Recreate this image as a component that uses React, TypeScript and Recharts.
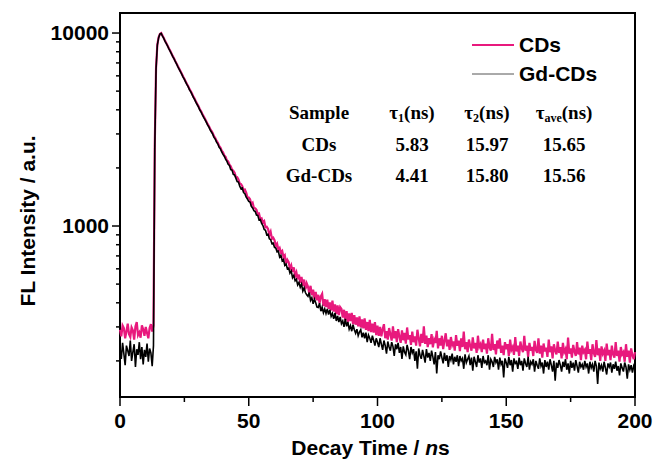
import React from 'react';
import { LineChart, Line, XAxis, YAxis, ReferenceArea, Legend } from 'recharts';

// decay time (ns), one channel every 0.5 ns, 10 channels per row
const times = [
  0, 0.5, 1, 1.5, 2, 2.5, 3, 3.5, 4, 4.5, 5, 5.5, 6, 6.5, 7, 7.5, 8, 8.5, 9, 9.5,
  10, 10.5, 11, 11.5, 12, 12.5, 13, 13.5, 14, 14.5, 15, 15.5, 16, 16.5, 17, 17.5, 18, 18.5, 19, 19.5,
  20, 20.5, 21, 21.5, 22, 22.5, 23, 23.5, 24, 24.5, 25, 25.5, 26, 26.5, 27, 27.5, 28, 28.5, 29, 29.5,
  30, 30.5, 31, 31.5, 32, 32.5, 33, 33.5, 34, 34.5, 35, 35.5, 36, 36.5, 37, 37.5, 38, 38.5, 39, 39.5,
  40, 40.5, 41, 41.5, 42, 42.5, 43, 43.5, 44, 44.5, 45, 45.5, 46, 46.5, 47, 47.5, 48, 48.5, 49, 49.5,
  50, 50.5, 51, 51.5, 52, 52.5, 53, 53.5, 54, 54.5, 55, 55.5, 56, 56.5, 57, 57.5, 58, 58.5, 59, 59.5,
  60, 60.5, 61, 61.5, 62, 62.5, 63, 63.5, 64, 64.5, 65, 65.5, 66, 66.5, 67, 67.5, 68, 68.5, 69, 69.5,
  70, 70.5, 71, 71.5, 72, 72.5, 73, 73.5, 74, 74.5, 75, 75.5, 76, 76.5, 77, 77.5, 78, 78.5, 79, 79.5,
  80, 80.5, 81, 81.5, 82, 82.5, 83, 83.5, 84, 84.5, 85, 85.5, 86, 86.5, 87, 87.5, 88, 88.5, 89, 89.5,
  90, 90.5, 91, 91.5, 92, 92.5, 93, 93.5, 94, 94.5, 95, 95.5, 96, 96.5, 97, 97.5, 98, 98.5, 99, 99.5,
  100, 100.5, 101, 101.5, 102, 102.5, 103, 103.5, 104, 104.5, 105, 105.5, 106, 106.5, 107, 107.5, 108, 108.5, 109, 109.5,
  110, 110.5, 111, 111.5, 112, 112.5, 113, 113.5, 114, 114.5, 115, 115.5, 116, 116.5, 117, 117.5, 118, 118.5, 119, 119.5,
  120, 120.5, 121, 121.5, 122, 122.5, 123, 123.5, 124, 124.5, 125, 125.5, 126, 126.5, 127, 127.5, 128, 128.5, 129, 129.5,
  130, 130.5, 131, 131.5, 132, 132.5, 133, 133.5, 134, 134.5, 135, 135.5, 136, 136.5, 137, 137.5, 138, 138.5, 139, 139.5,
  140, 140.5, 141, 141.5, 142, 142.5, 143, 143.5, 144, 144.5, 145, 145.5, 146, 146.5, 147, 147.5, 148, 148.5, 149, 149.5,
  150, 150.5, 151, 151.5, 152, 152.5, 153, 153.5, 154, 154.5, 155, 155.5, 156, 156.5, 157, 157.5, 158, 158.5, 159, 159.5,
  160, 160.5, 161, 161.5, 162, 162.5, 163, 163.5, 164, 164.5, 165, 165.5, 166, 166.5, 167, 167.5, 168, 168.5, 169, 169.5,
  170, 170.5, 171, 171.5, 172, 172.5, 173, 173.5, 174, 174.5, 175, 175.5, 176, 176.5, 177, 177.5, 178, 178.5, 179, 179.5,
  180, 180.5, 181, 181.5, 182, 182.5, 183, 183.5, 184, 184.5, 185, 185.5, 186, 186.5, 187, 187.5, 188, 188.5, 189, 189.5,
  190, 190.5, 191, 191.5, 192, 192.5, 193, 193.5, 194, 194.5, 195, 195.5, 196, 196.5, 197, 197.5, 198, 198.5, 199, 199.5,
  200,
];

const cdsCounts = [
  290, 268, 305, 296, 262, 284, 312, 275, 266, 298,
  288, 258, 302, 318, 272, 281, 264, 306, 292, 270,
  300, 279, 262, 296, 310, 284, 305, 2600, 6600, 8700,
  9500, 9900, 10000, 9700, 9420, 9110, 8850, 8600, 8310, 8090,
  7840, 7590, 7380, 7140, 6940, 6720, 6520, 6340, 6150, 5950,
  5790, 5610, 5440, 5300, 5120, 4990, 4840, 4680, 4560, 4410,
  4290, 4170, 4030, 3930, 3810, 3700, 3600, 3490, 3380, 3300,
  3190, 3110, 3030, 2920, 2860, 2760, 2700, 2600, 2550, 2460,
  2410, 2320, 2280, 2190, 2160, 2080, 2040, 1960, 1935, 1890,
  1800, 1790, 1745, 1660, 1650, 1610, 1530, 1545, 1490, 1410,
  1405, 1375, 1300, 1320, 1240, 1235, 1215, 1150, 1160, 1085,
  1095, 1040, 1060, 985, 990, 965, 900, 935, 860, 870,
  845, 790, 810, 755, 770, 728, 742, 690, 705, 640,
  668, 650, 600, 625, 580, 610, 552, 575, 530, 560,
  508, 545, 490, 528, 470, 505, 485, 448, 490, 438,
  468, 420, 455, 412, 440, 398, 432, 445, 385, 418,
  380, 415, 372, 402, 365, 410, 360, 392, 350, 388,
  345, 380, 372, 335, 368, 325, 362, 318, 352, 322,
  355, 310, 345, 308, 336, 302, 340, 298, 328, 295,
  332, 290, 318, 285, 326, 282, 312, 280, 318, 272,
  305, 270, 300, 268, 292, 310, 262, 285, 258, 296,
  275, 255, 302, 262, 285, 250, 292, 268, 248, 288,
  256, 279, 246, 298, 258, 272, 242, 284, 250, 268,
  240, 290, 262, 238, 276, 248, 302, 245, 270, 236,
  262, 244, 275, 235, 258, 248, 286, 232, 262, 240,
  270, 230, 255, 278, 238, 258, 228, 266, 242, 252,
  226, 272, 240, 255, 225, 262, 236, 284, 230, 250,
  222, 258, 240, 226, 265, 232, 248, 220, 270, 236,
  244, 222, 258, 230, 246, 218, 262, 234, 226, 276,
  228, 244, 216, 255, 232, 262, 220, 240, 214, 250,
  230, 244, 212, 258, 228, 236, 215, 266, 224, 240,
  212, 252, 232, 222, 270, 226, 240, 210, 248, 226,
  236, 212, 254, 228, 220, 262, 218, 240, 208, 246,
  224, 234, 210, 258, 222, 238, 206, 244, 226, 216,
  252, 220, 236, 206, 248, 222, 230, 204, 264, 218,
  232, 208, 242, 224, 212, 250, 216, 234, 202, 240,
  222, 228, 204, 252, 218, 230, 202, 244, 220, 210,
  256, 214, 232, 200, 238, 218, 226, 200, 246, 214,
  228, 202, 240, 216, 208, 250, 212, 226, 198, 236,
  216, 222, 198, 244, 210, 226, 196, 232, 214, 204,
  222,
];

const gdCdsCounts = [
  232, 205, 248, 218, 190, 240, 226, 212, 255, 200,
  222, 244, 186, 230, 215, 250, 204, 236, 192, 228,
  210, 246, 198, 232, 220, 188, 240, 2500, 6500, 8650,
  9460, 9870, 9960, 9650, 9380, 9060, 8810, 8550, 8270, 8040,
  7800, 7550, 7340, 7100, 6900, 6680, 6480, 6300, 6110, 5910,
  5750, 5570, 5400, 5260, 5080, 4950, 4800, 4640, 4520, 4370,
  4250, 4130, 3990, 3890, 3770, 3660, 3560, 3450, 3340, 3260,
  3150, 3070, 2990, 2880, 2820, 2720, 2660, 2560, 2510, 2420,
  2350, 2300, 2220, 2170, 2090, 2060, 1960, 1950, 1850, 1840,
  1770, 1700, 1690, 1610, 1560, 1575, 1490, 1470, 1410, 1380,
  1340, 1330, 1265, 1240, 1200, 1190, 1140, 1135, 1075, 1080,
  1030, 1005, 960, 950, 900, 905, 860, 850, 810, 815,
  775, 770, 735, 740, 690, 705, 660, 670, 625, 635,
  600, 605, 570, 585, 540, 555, 520, 530, 495, 510,
  482, 500, 460, 478, 452, 440, 432, 452, 412, 425,
  395, 418, 400, 380, 378, 398, 362, 380, 355, 372,
  352, 372, 348, 368, 340, 352, 330, 355, 322, 342,
  318, 338, 312, 322, 300, 330, 302, 318, 292, 305,
  285, 308, 290, 278, 292, 270, 282, 290, 265, 280,
  262, 280, 250, 272, 262, 248, 270, 256, 240, 262,
  250, 236, 262, 244, 228, 255, 240, 218, 252, 236,
  226, 250, 238, 212, 244, 230, 248, 220, 236, 205,
  238, 222, 215, 242, 226, 204, 236, 220, 230, 200,
  224, 182, 232, 214, 205, 228, 212, 196, 230, 208,
  220, 200, 226, 210, 192, 222, 172, 214, 204, 224,
  208, 194, 220, 200, 214, 186, 212, 202, 218, 192,
  210, 198, 214, 188, 212, 200, 206, 182, 216, 196,
  204, 212, 190, 208, 178, 210, 198, 186, 214, 196,
  206, 184, 212, 196, 200, 190, 214, 180, 204, 198,
  186, 210, 196, 204, 180, 208, 192, 200, 164, 206,
  196, 184, 210, 190, 202, 176, 206, 194, 198, 182,
  208, 190, 200, 178, 206, 194, 186, 210, 180, 198,
  192, 204, 176, 200, 190, 182, 206, 188, 196, 172,
  202, 186, 198, 180, 204, 190, 176, 200, 158, 196,
  184, 202, 190, 176, 198, 186, 204, 180, 194, 172,
  200, 184, 196, 178, 202, 188, 174, 198, 186, 192,
  180, 200, 186, 194, 172, 198, 184, 192, 176, 200,
  188, 152, 196, 182, 190, 176, 198, 184, 170, 194,
  186, 196, 174, 192, 182, 198, 178, 188, 168, 194,
  184, 176, 196, 186, 162, 192, 180, 190, 174, 188,
  180,
];

const xTicks = [0, 25, 50, 75, 100, 125, 150, 175, 200];
const xLabelled = [0, 50, 100, 150, 200];
const yTicks = [200, 300, 400, 500, 600, 700, 800, 900, 1000, 2000, 3000, 4000, 5000, 6000, 7000, 8000, 9000, 10000];
const yLabelled = [1000, 10000];

// lifetime fit table
const samples = ['CDs', 'Gd-CDs'];
const tau1 = ['5.83', '4.41'];
const tau2 = ['15.97', '15.80'];
const tauAve = ['15.65', '15.56'];

const PINK = '#E8197D';
const SANS = '"Liberation Sans", Arial, sans-serif';
const SERIF = '"Liberation Serif", "Times New Roman", serif';

const rows = times.map((t, i) => ({ t, cds: cdsCounts[i], gd: gdCdsCounts[i] }));

const XTick = (props: any) => {
  const { x, y, payload } = props;
  const major = xLabelled.includes(payload.value);
  return (
    <g>
      <line x1={x} x2={x} y1={y} y2={y + (major ? 9 : 5)} stroke="#000" strokeWidth={1.5} />
      {major && (
        <text x={x} y={y + 31} textAnchor="middle" fontFamily={SANS} fontWeight="bold" fontSize={21} fill="#000">
          {payload.value}
        </text>
      )}
    </g>
  );
};

const YTick = (props: any) => {
  const { x, y, payload } = props;
  const major = yLabelled.includes(payload.value);
  return (
    <g>
      <line x1={x} x2={x - (major ? 8 : 4)} y1={y} y2={y} stroke="#000" strokeWidth={1.5} />
      {major && (
        <text x={x - 11} y={y + 7} textAnchor="end" fontFamily={SANS} fontWeight="bold" fontSize={21} fill="#000">
          {payload.value}
        </text>
      )}
    </g>
  );
};

const renderLegend = ({ payload }: any) => (
  <div>
    {(payload || []).map((entry: any) => {
      const pink = entry.value === 'CDs';
      return (
        <div key={entry.value} style={{ display: 'flex', alignItems: 'center', height: 29 }}>
          <svg width={42} height={6} style={{ display: 'block' }}>
            <line x1={0} x2={42} y1={3} y2={3} stroke={pink ? PINK : '#555'} strokeWidth={pink ? 2 : 1} />
          </svg>
          <span style={{ marginLeft: 5, fontFamily: SANS, fontWeight: 'bold', fontSize: 21, color: '#000' }}>
            {entry.value}
          </span>
        </div>
      );
    })}
  </div>
);

const cellStyle = (cx: number, cy: number): React.CSSProperties => ({
  position: 'absolute',
  left: cx - 50,
  top: cy - 12,
  width: 100,
  height: 24,
  lineHeight: '24px',
  textAlign: 'center',
  fontFamily: SERIF,
  fontWeight: 'bold',
  fontSize: 19,
  color: '#000',
  whiteSpace: 'nowrap',
});

const colX = [319, 412, 487, 564];
const rowY = [113, 145, 176];

const Tau = ({ sub }: { sub: string }) => (
  <span>
    τ<sub style={{ fontSize: 12, verticalAlign: -3 }}>{sub}</sub>(ns)
  </span>
);

export default function App() {
  return (
    <div style={{ position: 'absolute', left: 0, top: 0, width: 655, height: 461, background: '#fff' }}>
      <LineChart width={655} height={461} data={rows} margin={{ top: 13, right: 20, bottom: 0, left: 0 }}>
        <XAxis
          dataKey="t"
          type="number"
          domain={[0, 200]}
          ticks={xTicks}
          interval={0}
          height={64}
          axisLine={false}
          tickLine={false}
          tickSize={0}
          tickMargin={0}
          tick={<XTick />}
          label={{
            content: ({ viewBox }: any) => (
              <text
                x={viewBox.x + viewBox.width / 2 - 7}
                y={viewBox.y + 58}
                textAnchor="middle"
                fontFamily={SANS}
                fontWeight="bold"
                fontSize={21}
                fill="#000"
              >
                Decay Time / <tspan fontStyle="italic">n</tspan>s
              </text>
            ),
          }}
        />
        <YAxis
          type="number"
          scale="log"
          domain={[130, 12700]}
          allowDataOverflow
          ticks={yTicks}
          interval={0}
          width={120}
          axisLine={false}
          tickLine={false}
          tickSize={0}
          tickMargin={0}
          tick={<YTick />}
          label={{
            content: ({ viewBox }: any) => {
              const cx = viewBox.x + 27;
              const cy = viewBox.y + viewBox.height / 2 + 16;
              return (
                <text
                  x={cx}
                  y={cy}
                  transform={`rotate(-90 ${cx} ${cy})`}
                  textAnchor="middle"
                  dominantBaseline="central"
                  fontFamily={SANS}
                  fontWeight="bold"
                  fontSize={21}
                  fill="#000"
                >
                  FL Intensity / a.u.
                </text>
              );
            },
          }}
        />
        <Line
          type="linear"
          dataKey="cds"
          name="CDs"
          stroke={PINK}
          strokeWidth={2.2}
          dot={false}
          activeDot={false}
          isAnimationActive={false}
        />
        <Line
          type="linear"
          dataKey="gd"
          name="Gd-CDs"
          stroke="#000"
          strokeWidth={1.6}
          dot={false}
          activeDot={false}
          isAnimationActive={false}
        />
        <ReferenceArea x1={0} x2={200} y1={130} y2={12700} fill="none" stroke="#000" strokeWidth={2} ifOverflow="visible" />
        <Legend
          layout="horizontal"
          verticalAlign="middle"
          align="center"
          content={renderLegend}
          wrapperStyle={{ top: 30, left: 472, width: 150 }}
        />
      </LineChart>

      <div style={cellStyle(colX[0], rowY[0])}>Sample</div>
      <div style={cellStyle(colX[1], rowY[0])}><Tau sub="1" /></div>
      <div style={cellStyle(colX[2], rowY[0])}><Tau sub="2" /></div>
      <div style={cellStyle(colX[3], rowY[0])}><Tau sub="ave" /></div>
      {samples.map((s, i) => (
        <React.Fragment key={s}>
          <div style={cellStyle(colX[0], rowY[i + 1])}>{s}</div>
          <div style={cellStyle(colX[1], rowY[i + 1])}>{tau1[i]}</div>
          <div style={cellStyle(colX[2], rowY[i + 1])}>{tau2[i]}</div>
          <div style={cellStyle(colX[3], rowY[i + 1])}>{tauAve[i]}</div>
        </React.Fragment>
      ))}
    </div>
  );
}
